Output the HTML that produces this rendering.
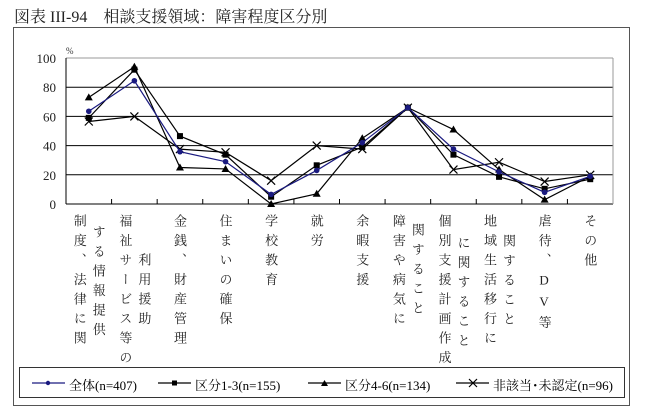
<!DOCTYPE html>
<html><head><meta charset="utf-8"><style>
body{margin:0;width:647px;height:412px;background:#fff;position:relative;overflow:hidden;font-family:"Liberation Serif","Noto Serif CJK SC",serif;}
.title{position:absolute;left:14px;top:4px;font-size:16px;color:#222;white-space:nowrap;}
.frame{position:absolute;left:13px;top:27px;width:617px;height:379px;border:1.5px solid #555;box-sizing:border-box;}
.cat{position:absolute;writing-mode:vertical-rl;text-orientation:upright;font-size:13px;letter-spacing:6.5px;line-height:14px;color:#222;white-space:nowrap;}
.legend{position:absolute;left:19px;top:367px;width:606px;height:31px;border:1px solid #333;box-sizing:border-box;font-size:13px;}
.li{position:absolute;top:7px;white-space:nowrap;}
svg{position:absolute;left:0;top:0;}
</style></head><body>
<div class="title">図表 III-94　相談支援領域：障害程度区分別</div>
<div class="frame"></div>
<svg id="chart" width="647" height="412"></svg>
<div id="cats"></div>
<div class="legend">
 <svg width="606" height="31" style="position:absolute;left:0;top:0">
  <line x1="12" y1="15" x2="45" y2="15" stroke="#1a1a80" stroke-width="1.2"/><circle cx="28" cy="15" r="2.2" fill="#1a1a80"/>
  <line x1="138" y1="15" x2="171" y2="15" stroke="#000" stroke-width="1.2"/><rect x="152" y="12.5" width="5" height="5" fill="#000"/>
  <line x1="288" y1="15" x2="321" y2="15" stroke="#000" stroke-width="1.2"/><path d="M304.5 12 L308 18 L301 18Z" fill="#000"/>
  <line x1="436" y1="15" x2="469" y2="15" stroke="#000" stroke-width="1.2"/><path d="M449 11 L457 19 M457 11 L449 19" stroke="#000" stroke-width="1.2"/>
 </svg>
 <span class="li" style="left:49px">全体(n=407)</span>
 <span class="li" style="left:175px">区分1-3(n=155)</span>
 <span class="li" style="left:325px">区分4-6(n=134)</span>
 <span class="li" style="left:473px">非該当･未認定(n=96)</span>
</div>
<script>
const categories=["制度、法律に関する情報提供","福祉サービス等の利用援助","金銭、財産管理","住まいの確保","学校教育","就労","余暇支援","障害や病気に関すること","個別支援計画作成に関すること","地域生活移行に関すること","虐待、DV等","その他"];
const allValues=[63.5,84.4,35.8,29,6.6,23,42,66,37.6,22,8,19];
const grp13Values=[59,92,46.5,33.8,5,26.5,39,66,33.8,18.6,10.4,17];
const grp46Values=[73,94,25,24,0,7,45,66,51,23.6,3,19];
const naValues=[56.5,60,37.6,35.4,16,40,37.6,66,23.6,28.6,15.4,20];
const yTicks=[0,20,40,60,80,100];
const catLabels=[
 {cols:[["制度、法律に関",0],["する情報提供",11]]},
 {cols:[["福祉サービス等の",0],["利用援助",39]]},
 {cols:[["金銭、財産管理",0]]},
 {cols:[["住まいの確保",0]]},
 {cols:[["学校教育",0]]},
 {cols:[["就労",0]]},
 {cols:[["余暇支援",0]]},
 {cols:[["障害や病気に",0],["関すること",9]]},
 {cols:[["個別支援計画作成",0],["に関すること",22]]},
 {cols:[["地域生活移行に",0],["関すること",20]]},
 {cols:[["虐待、DV等",0]]},
 {cols:[["その他",0]]}
];
const L=66,R=613,T=58,B=204;
const n=categories.length,step=(R-L)/n;
const xs=i=>L+step*(i+0.5);
const ys=v=>B-(v/100)*(B-T);
const NS="http://www.w3.org/2000/svg";
const svg=document.getElementById('chart');
function mk(tag,attrs){const e=document.createElementNS(NS,tag);for(const k in attrs)e.setAttribute(k,attrs[k]);svg.appendChild(e);return e;}
yTicks.forEach(t=>{
 const g=mk('line',{x1:L,x2:R,y1:ys(t),y2:ys(t),stroke:t===100?'#999':'#000','stroke-width':1});
 
 
 const tx=mk('text',{x:56,y:ys(t)+5,'text-anchor':'end','font-size':13,'font-family':'Liberation Serif, serif',fill:'#222'});
 tx.textContent=t;
 
 
});
const ya=mk('line',{x1:L,x2:L,y1:T,y2:B,stroke:'#000'});


const ra=mk('line',{x1:R,x2:R,y1:T,y2:B,stroke:'#999'});


const pc=mk('text',{x:66,y:54,'font-size':9,fill:'#333'});pc.textContent='%';


for(let i=1;i<n;i++){const tk=mk('line',{x1:L+step*i,x2:L+step*i,y1:B,y2:B-5,stroke:'#000'});
 
 }
function series(vals,color,marker,name){
 const pl=mk('polyline',{points:vals.map((v,i)=>xs(i)+','+ys(v)).join(' '),fill:'none',stroke:color,'stroke-width':1.2});
 
 
 vals.forEach((v,i)=>{const x=xs(i),y=ys(v);let m;
  if(marker==='dot')m=mk('circle',{cx:x,cy:y,r:2.8,fill:color});
  else if(marker==='sq')m=mk('rect',{x:x-3,y:y-3,width:6,height:6,fill:color});
  else if(marker==='tri')m=mk('path',{d:`M${x} ${y-4}L${x+4} ${y+3}L${x-4} ${y+3}Z`,fill:color});
  else m=mk('path',{d:`M${x-4} ${y-4}L${x+4} ${y+4}M${x+4} ${y-4}L${x-4} ${y+4}`,stroke:color,'stroke-width':1.2});
  
  });
}
series(naValues,'#000','x','series-na');
series(grp46Values,'#000','tri','series-4-6');
series(grp13Values,'#000','sq','series-1-3');
series(allValues,'#1a1a80','dot','series-all');
const cd=document.getElementById('cats');
catLabels.forEach((c,i)=>{
 const cx=xs(i);const k=c.cols.length;
 c.cols.forEach((col,j)=>{
  const d=document.createElement('div');d.className='cat';
  
  
  d.textContent=col[0];
  const off=k===1?0:(j===0?-9:10);
  d.style.left=(cx+off-8)+'px';d.style.top=(214+col[1])+'px';
  cd.appendChild(d);
 });
});
</script>
</body></html>
